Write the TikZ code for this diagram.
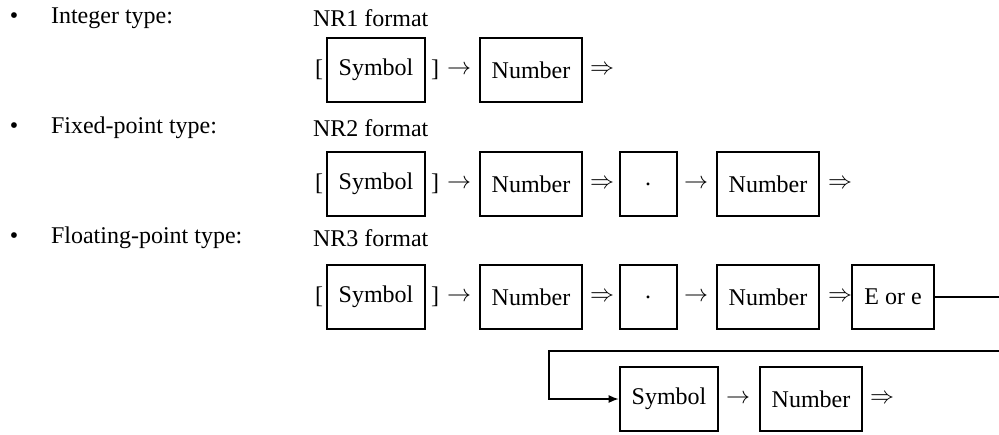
\documentclass[tikz,border=0pt]{standalone}
\usepackage{fontspec}
\setmainfont{Liberation Serif}
\usetikzlibrary{arrows.meta}

\begin{document}
\begin{tikzpicture}[x=0.5pt,y=-0.5pt,font=\fontsize{12}{14}\selectfont,line cap=round]
	\tikzstyle{kuang}=[draw,line width=1pt,minimum height=32pt,inner xsep=6pt];
	\tikzstyle{dian}=[kuang,minimum width=28.5pt];
	\useasboundingbox (0,0) rectangle (999,434);
	%% types
	\node (bul1) at (14,18)  {\textbullet};
	\node (bul2) at (14,128) {\textbullet};
	\node (bul3) at (14,238) {\textbullet};
	\node[anchor=west] (int)   at (44,18)  {Integer type:};
	\node[anchor=west] (fixed) at (44,128) {Fixed-point type:};
	\node[anchor=west] (float) at (44,238) {Floating-point type:};
	\node[anchor=west] (nr1) at (306,18)  {NR1 format};
	\node[anchor=west] (nr2) at (306,128) {NR2 format};
	\node[anchor=west] (nr3) at (306,238) {NR3 format};
	%% NR1
	\node (lb1) at (319,70) {[};
	\node[kuang] (sym1) at (376,70) {Symbol};
	\node (rb1) at (435,70) {]};
	\node (to1) at (459,70) {$\rightarrow$};
	\node[kuang] (num1) at (531,70) {Number};
	\node (then1) at (602,70) {$\Rightarrow$};
	%% NR2
	\node (lb2) at (319,184) {[};
	\node[kuang] (sym2) at (376,184) {Symbol};
	\node (rb2) at (435,184) {]};
	\node (to2) at (459,184) {$\rightarrow$};
	\node[kuang] (num2) at (531,184) {Number};
	\node (then2) at (602,184) {$\Rightarrow$};
	\node[dian] (dot2) at (648,184) {.};
	\node (to2b) at (696,184) {$\rightarrow$};
	\node[kuang] (frac2) at (768,184) {Number};
	\node (then2b) at (840,184) {$\Rightarrow$};
	%% NR3
	\node (lb3) at (319,297) {[};
	\node[kuang] (sym3) at (376,297) {Symbol};
	\node (rb3) at (435,297) {]};
	\node (to3) at (459,297) {$\rightarrow$};
	\node[kuang] (num3) at (531,297) {Number};
	\node (then3) at (602,297) {$\Rightarrow$};
	\node[dian] (dot3) at (648,297) {.};
	\node (to3b) at (696,297) {$\rightarrow$};
	\node[kuang] (frac3) at (768,297) {Number};
	\node (then3b) at (840,297) {$\Rightarrow$};
	\node[kuang] (eore) at (893,297) {E or e};
	%% exponent
	\node[kuang] (sym4) at (669,399) {Symbol};
	\node (to4) at (738,399) {$\rightarrow$};
	\node[kuang] (num4) at (811,399) {Number};
	\node (then4) at (882,399) {$\Rightarrow$};
	\coordinate (edge1) at (1004,297);
	\coordinate (edge2) at (1004,351);
	\coordinate (turn)  at (549,351);
	\draw[line width=0.7pt,-{Latex[length=5pt,width=4pt]}] (eore.east) -- (edge1) -- (edge2) -- (turn) |- (sym4.west);
\end{tikzpicture}
\end{document}
